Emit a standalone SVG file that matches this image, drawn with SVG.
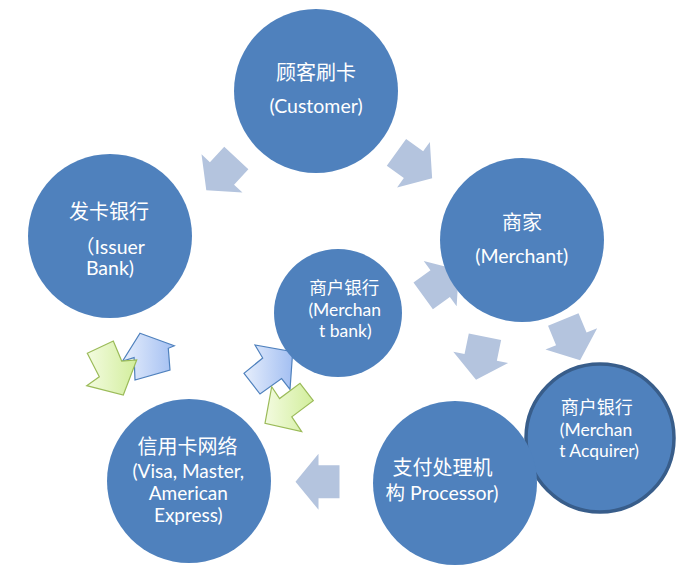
<svg xmlns="http://www.w3.org/2000/svg" width="690" height="588" viewBox="0 0 690 588">
<style>
.node{fill:#4f81bd}
.acq{fill:#4f81bd;stroke:#385d8a;stroke-width:3.5}
.t{fill:#ffffff;font-family:Lato,"Noto Sans CJK SC",sans-serif;text-anchor:middle}
.zh{font-family:"Noto Sans CJK SC",sans-serif}
.g{fill:#b4c4de}
.ba{fill:url(#gb);stroke:#4f81bd;stroke-width:1.2;stroke-linejoin:miter}
.ga{fill:url(#gg);stroke:#9bbb59;stroke-width:1.2;stroke-linejoin:miter}
</style>
<defs>
<path id="ar" d="M-22,-16.5 H-1 V-28 L22,0 L-1,28 V16.5 H-22 Z"/>
<linearGradient id="gb" x1="0" y1="0" x2="1" y2="0">
<stop offset="0" stop-color="#e6eefc"/>
<stop offset="1" stop-color="#a3bff2"/>
</linearGradient>
<linearGradient id="gg" x1="0" y1="0" x2="1" y2="0">
<stop offset="0" stop-color="#f3fbe0"/>
<stop offset="1" stop-color="#d2ee9c"/>
</linearGradient>
</defs>
<rect width="690" height="588" fill="#ffffff"/>
<g id="connectors">
<use href="#ar" class="g" transform="translate(221.3,174.2) rotate(133)"/>
<use href="#ar" class="g" transform="translate(414.3,165.3) rotate(35.8)"/>
<use href="#ar" class="g" transform="translate(441,283) rotate(-36)"/>
<use href="#ar" class="g" transform="translate(480.5,358.3) rotate(101.7)"/>
<use href="#ar" class="g" transform="translate(571.7,339.8) rotate(67.5)"/>
<use href="#ar" class="g" transform="translate(317.5,481.7) rotate(180)"/>
<polygon class="ba" points="140,333.3 174.3,345.7 168.3,348.3 170,370 135,380 134.1,357.6 122.7,361"/>
<polygon class="ga" points="87.3,353.3 113.3,341 121.7,361 136.7,360 123.3,395 86.7,385.7 99.3,376.7"/>
<polygon class="ba" points="292.7,351.7 290,389.3 281.6,378.6 260,394 244,373.3 262.7,358 255,345"/>
<polygon class="ga" points="300,383.3 313.3,400.7 291.8,416.8 301.7,431.7 265,423.3 271.7,386.7 279.6,398.6"/>
</g>
<g id="customer">
<circle class="node" cx="316" cy="91" r="82"/>
<text class="t zh" x="316" y="80" font-size="20">顾客刷卡</text>
<text class="t" x="316" y="113" font-size="19.5">(Customer)</text>
</g>
<g id="issuer">
<circle class="node" cx="110" cy="236" r="82"/>
<text class="t zh" x="109" y="218.5" font-size="20">发卡银行</text>
<text class="t" x="110" y="254" font-size="19.5"><tspan class="zh">（</tspan>Issuer</text>
<text class="t" x="110" y="275" font-size="19.5">Bank)</text>
</g>
<g id="merchant">
<circle class="node" cx="522" cy="240" r="82"/>
<text class="t zh" x="522" y="230" font-size="20">商家</text>
<text class="t" x="521.7" y="263" font-size="19.5">(Merchant)</text>
</g>
<g id="merchant-bank">
<circle class="node" cx="338" cy="313" r="64"/>
<text class="t zh" x="344.3" y="294" font-size="17.5">商户银行</text>
<text class="t" x="344.7" y="316" font-size="17.5">(Merchan</text>
<text class="t" x="345.3" y="337.3" font-size="17.5">t bank)</text>
</g>
<g id="merchant-acquirer">
<circle class="acq" cx="600" cy="438" r="74"/>
<text class="t zh" x="596.7" y="414" font-size="18">商户银行</text>
<text class="t" x="596" y="436" font-size="17.5">(Merchan</text>
<text class="t" x="599" y="457.3" font-size="17.5">t Acquirer)</text>
</g>
<g id="card-network">
<circle class="node" cx="189" cy="481" r="82"/>
<text class="t zh" x="187.5" y="453.5" font-size="20">信用卡网络</text>
<text class="t" x="188.3" y="478.3" font-size="19">(Visa, Master,</text>
<text class="t" x="188.3" y="500" font-size="19">American</text>
<text class="t" x="188.3" y="521.5" font-size="19">Express)</text>
</g>
<g id="processor">
<circle class="node" cx="455" cy="483" r="82"/>
<text class="t zh" x="442.5" y="475" font-size="20">支付处理机</text>
<text class="t" x="442" y="500" font-size="19.5"><tspan class="zh">构</tspan> Processor)</text>
</g>
</svg>
